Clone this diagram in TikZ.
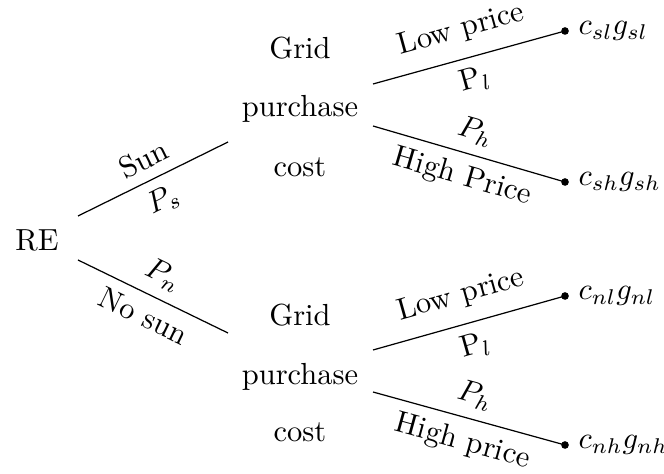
\documentclass[tikz,border=0pt]{standalone}
\begin{document}
\begin{tikzpicture}[x=0.3279pt,y=-0.3279pt,
  conn/.style={draw=black,line width=0.4pt},
  leaf/.style={circle,fill=black,inner sep=0pt,minimum size=2.5pt},
  gtext/.style={anchor=base,inner sep=0pt},
  ltext/.style={anchor=base west,inner sep=0pt}]
\useasboundingbox (0,0) rectangle (664,474);
\node (re) at (37,240) {RE};
% start/end coordinates
\coordinate (s0) at (78,216);
\coordinate (s1) at (228,142);
\coordinate (n0) at (78,260);
\coordinate (n1) at (228,333);
\coordinate (a0) at (373,84);
\coordinate (b0) at (373,126);
\coordinate (c0) at (373,350);
\coordinate (e0) at (373,392);
% grid purchase cost
\node[gtext] (g1) at (300,59) {Grid};
\node[gtext] (p1) at (300,117) {purchase};
\node[gtext] (k1) at (300,177) {cost};
\node[gtext] (g2) at (300,326) {Grid};
\node[gtext] (p2) at (300,385) {purchase};
\node[gtext] (k2) at (300,442) {cost};
% leaves
\node[leaf] (d1) at (565,31) {};
\node[leaf] (d2) at (565,182) {};
\node[leaf] (d3) at (565,296) {};
\node[leaf] (d4) at (565,445) {};
\node[ltext] (t1) at (578,35) {$c_{sl}g_{sl}$};
\node[ltext] (t2) at (578,186) {$c_{sh}g_{sh}$};
\node[ltext] (t3) at (578,300) {$c_{nl}g_{nl}$};
\node[ltext] (t4) at (578,449) {$c_{nh}g_{nh}$};
% connectors
\draw[conn] (s0) -- node[midway,above,sloped] {Sun} node[midway,below,sloped] {$P_s$} (s1);
\draw[conn] (n0) -- node[midway,above,sloped] {$P_n$} node[midway,below,sloped] {No sun} (n1);
\draw[conn] (a0) -- node[midway,above=1.5pt,sloped] {Low price} node[midway,below,sloped] {P$_l$} (d1.center);
\draw[conn] (b0) -- node[midway,above,sloped] {$P_h$} node[midway,below,sloped] {High Price} (d2.center);
\draw[conn] (c0) -- node[midway,above=1.5pt,sloped] {Low price} node[midway,below,sloped] {P$_l$} (d3.center);
\draw[conn] (e0) -- node[midway,above,sloped] {$P_h$} node[midway,below,sloped] {High price} (d4.center);
\end{tikzpicture}
\end{document}
